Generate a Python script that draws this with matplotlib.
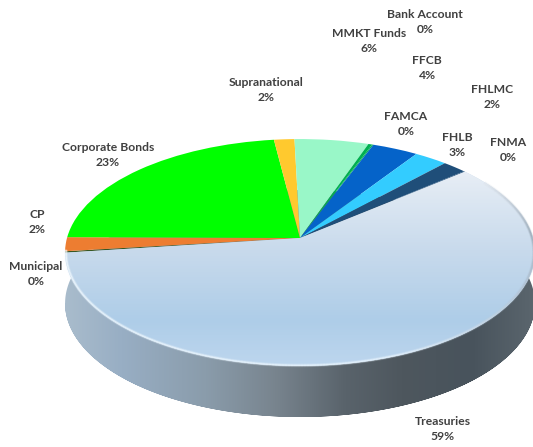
import numpy as np
import matplotlib
matplotlib.use('Agg')
import matplotlib.pyplot as plt
from matplotlib.collections import LineCollection
from matplotlib.colors import LinearSegmentedColormap
from matplotlib.patches import Polygon
from matplotlib.transforms import Transform

plt.rcParams['font.family'] = ['Lato', 'DejaVu Sans']

# valores lidos da figura, no sentido horario a partir de Treasuries
names = ['Treasuries', 'Municipal', 'CP', 'Corporate Bonds', 'Supranational', 'MMKT Funds',
         'Bank Account', 'FAMCA', 'FFCB', 'FHLB', 'FHLMC', 'FNMA']
values = [59.4, 0.2, 2.0, 23.0, 1.6, 5.8, 0.3, 0.1, 3.6, 2.6, 1.9, 0.1]
colors = ['#c8daec', '#385723', '#ed7d31', '#00ff00', '#ffc92e', '#99f7c8',
          '#00b050', '#00b050', '#0563c9', '#33ccff', '#1f4e79', '#1f4e79']
percent_labels = ['59%', '0%', '2%', '23%', '2%', '6%', '0%', '0%', '4%', '3%', '2%', '0%']

# centro de cada rotulo em pixels
label_x = [443, 36, 37, 108, 266, 369, 425, 406, 427, 457, 492, 508]
label_y = [429, 274, 222, 155, 90, 41, 22, 124, 68, 145, 97, 150]

# perspectiva do tampo
apex_x, apex_y = 300, 238
half_w, half_h, tilt = 233, 111.6, 0.1278
depth = 51


class Perspective(Transform):
    input_dims = output_dims = 2

    def transform_non_affine(self, xy):
        xy = np.asarray(xy, dtype=float)
        w = 1 + tilt * xy[:, 1]
        return np.column_stack([apex_x + half_w * xy[:, 0] / w, apex_y - half_h * xy[:, 1] / w])


persp = Perspective()

fig = plt.figure(figsize=(5.33, 4.47), dpi=100)
ax = fig.add_axes([0, 0, 1, 1])

wedges, _ = ax.pie(values, colors=colors, startangle=40, counterclock=False,
                   wedgeprops={'linewidth': 0})
ax.set_box_aspect(None)
ax.set_aspect('auto')
for w in wedges:
    w.set_transform(persp + ax.transData)
    w.set_zorder(3)

# parede lateral
t = np.radians(np.linspace(0, 360, 721))
rim = persp.transform_non_affine(np.column_stack([np.cos(t), np.sin(t)]))
right, left = rim[:, 0].argmax(), rim[:, 0].argmin()
back = rim[right:left + 1]
front = np.vstack([rim[left:], rim[1:right + 1]])
wall_pts = np.vstack([back, front + [0, depth]])
wall = Polygon(wall_pts, closed=True, facecolor='none', edgecolor='none')
ax.add_patch(wall)
wall_cmap = LinearSegmentedColormap.from_list('wall', [
    (0.0, '#a9bccc'), (0.12, '#98aec4'), (0.3, '#8a9cab'), (0.45, '#78848e'),
    (0.6, '#59636b'), (0.72, '#4e575e'), (0.87, '#48535c'), (1.0, '#5a656d')])
grad = np.linspace(0, 1, 256).reshape(1, -1)
im = ax.imshow(grad, cmap=wall_cmap, extent=(65, 533, 447, 0), aspect='auto', zorder=1)
im.set_clip_path(wall)

# gradiente da fatia Treasuries
top_cmap = LinearSegmentedColormap.from_list('top', [
    (0.0, '#f7f9fc'), (0.16, '#e6edf5'), (0.49, '#c8daec'), (0.8, '#aecde8'), (1.0, '#bdd6ee')])
grad_v = np.linspace(0, 1, 256).reshape(-1, 1)
im2 = ax.imshow(grad_v, cmap=top_cmap, extent=(0, 533, 366, 139), aspect='auto', zorder=4)
im2.set_clip_path(wedges[0])

# brilho na borda da frente
arc_t = np.radians(np.linspace(186, 392, 300))
arc = persp.transform_non_affine(np.column_stack([np.cos(arc_t), np.sin(arc_t)]) * 0.996)
segs = np.stack([arc[:-1], arc[1:]], axis=1)
rim_cmap = LinearSegmentedColormap.from_list('rim', [
    (0.0, '#f4fbff'), (0.5, '#eaf6ff'), (0.72, '#b4c4d4'), (0.86, '#98a6b3'), (1.0, '#dfe6ee')])
for lw, alpha in [(2.6, 0.2), (1.6, 0.4), (0.8, 0.6)]:
    lc = LineCollection(segs, cmap=rim_cmap, linewidths=lw, alpha=alpha, zorder=5)
    lc.set_array(np.linspace(0, 1, len(segs)))
    ax.add_collection(lc)

for name, pct, x, y in zip(names, percent_labels, label_x, label_y):
    ax.text(x, y, name + '\n' + pct, ha='center', va='center', fontsize=8.7, fontweight='bold',
            color='#404040', linespacing=1.5, zorder=6)

ax.set_xlim(0, 533)
ax.set_ylim(447, 0)
ax.axis('off')
fig.savefig('out.png', dpi=100)
